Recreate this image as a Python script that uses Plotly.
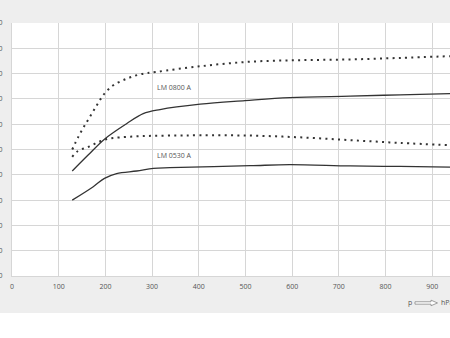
import plotly.graph_objects as go

# Data
x_0800_max = [129, 142, 156, 171, 184, 198, 217, 246, 274, 310, 403, 510, 617, 724, 831, 938]
y_0800_max = [50.0, 55.0, 59.6, 64.2, 68.2, 72.1, 75.4, 78.0, 79.7, 80.7, 82.9, 84.7, 85.3, 85.6, 86.2, 86.9]

x_0800 = [129, 163, 198, 246, 281, 317, 403, 499, 595, 724, 831, 938]
y_0800 = [41.5, 47.8, 54.1, 60.3, 64.2, 65.8, 67.9, 69.3, 70.5, 71.1, 71.6, 72.1]

x_0530_max = [129, 139, 153, 167, 181, 196, 210, 231, 281, 338, 403, 510, 617, 724, 831, 938]
y_0530_max = [47.1, 49.1, 50.4, 51.3, 52.6, 53.7, 54.4, 54.8, 55.3, 55.5, 55.6, 55.5, 54.8, 53.7, 52.6, 51.7]

x_0530 = [129, 174, 198, 224, 267, 303, 338, 510, 595, 724, 831, 938]
y_0530 = [30.0, 35.3, 38.6, 40.5, 41.5, 42.5, 42.8, 43.6, 44.0, 43.5, 43.3, 43.0]

x_ticks = [0, 100, 200, 300, 400, 500, 600, 700, 800, 900]
y_ticks = [0, 10, 20, 30, 40, 50, 60, 70, 80, 90, 100]

labels = [("LM 0800 A", 348, 74.5), ("LM 0530 A", 348, 47.7)]

line_col = "#333333"
grid_col = "#d6d6d6"
font_fam = "Open Sans"
text_col = "#555555"

fig = go.Figure()
for xs, ys, dotted in [(x_0800_max, y_0800_max, True), (x_0800, y_0800, False),
                       (x_0530_max, y_0530_max, True), (x_0530, y_0530, False)]:
    fig.add_trace(go.Scatter(
        x=xs, y=ys, mode="lines", line_shape="spline",
        line=dict(color=line_col, width=2 if dotted else 1.3,
                  dash="2px,4.3px" if dotted else "solid"),
        showlegend=False, hoverinfo="skip"))

for text, lx, ly in labels:
    fig.add_annotation(x=lx, y=ly, text=text, showarrow=False,
                       font=dict(family=font_fam, size=7, color=text_col))


def px(x):
    return (x - 12) / 438


def py(y):
    return (276 - y) / 253.3


# axis caption "p => hPa"
fig.add_annotation(x=px(409.5), y=py(303), xref="paper", yref="paper",
                   text="p", showarrow=False, xanchor="center", yanchor="middle",
                   font=dict(family=font_fam, size=7, color=text_col))
fig.add_annotation(x=px(438.5), y=py(303), xref="paper", yref="paper",
                   text="hPa", showarrow=False, xanchor="left", yanchor="middle",
                   font=dict(family=font_fam, size=7, color=text_col))

arrow = [(415, 301.8), (431, 301.8), (431, 300.2), (437.5, 303), (431, 305.8), (431, 304.2), (415, 304.2)]
path = "M " + " L ".join(f"{px(a):.5f},{py(b):.5f}" for a, b in arrow) + " Z"
fig.add_shape(type="path", path=path, xref="paper", yref="paper",
              line=dict(color="#888888", width=0.8), fillcolor="white")

fig.update_layout(
    width=450, height=313,
    margin=dict(l=12, r=0, t=23, b=37, pad=0),
    paper_bgcolor="#eeeeee", plot_bgcolor="white",
    font=dict(family=font_fam, size=7, color=text_col),
    xaxis=dict(range=[0, 938], tickvals=x_ticks, showgrid=True, gridcolor=grid_col,
               gridwidth=1, zeroline=False, showline=True, linecolor=grid_col,
               ticks="", tickfont=dict(size=7, color=text_col), automargin=False,
               ticklabelstandoff=4),
    yaxis=dict(range=[0, 100], tickvals=y_ticks, showgrid=True, gridcolor=grid_col,
               gridwidth=1, zeroline=False, showline=True, linecolor=grid_col,
               ticks="", tickfont=dict(size=7, color=text_col), automargin=False,
               ticklabelstandoff=7),
)

fig.write_html("out.html")
